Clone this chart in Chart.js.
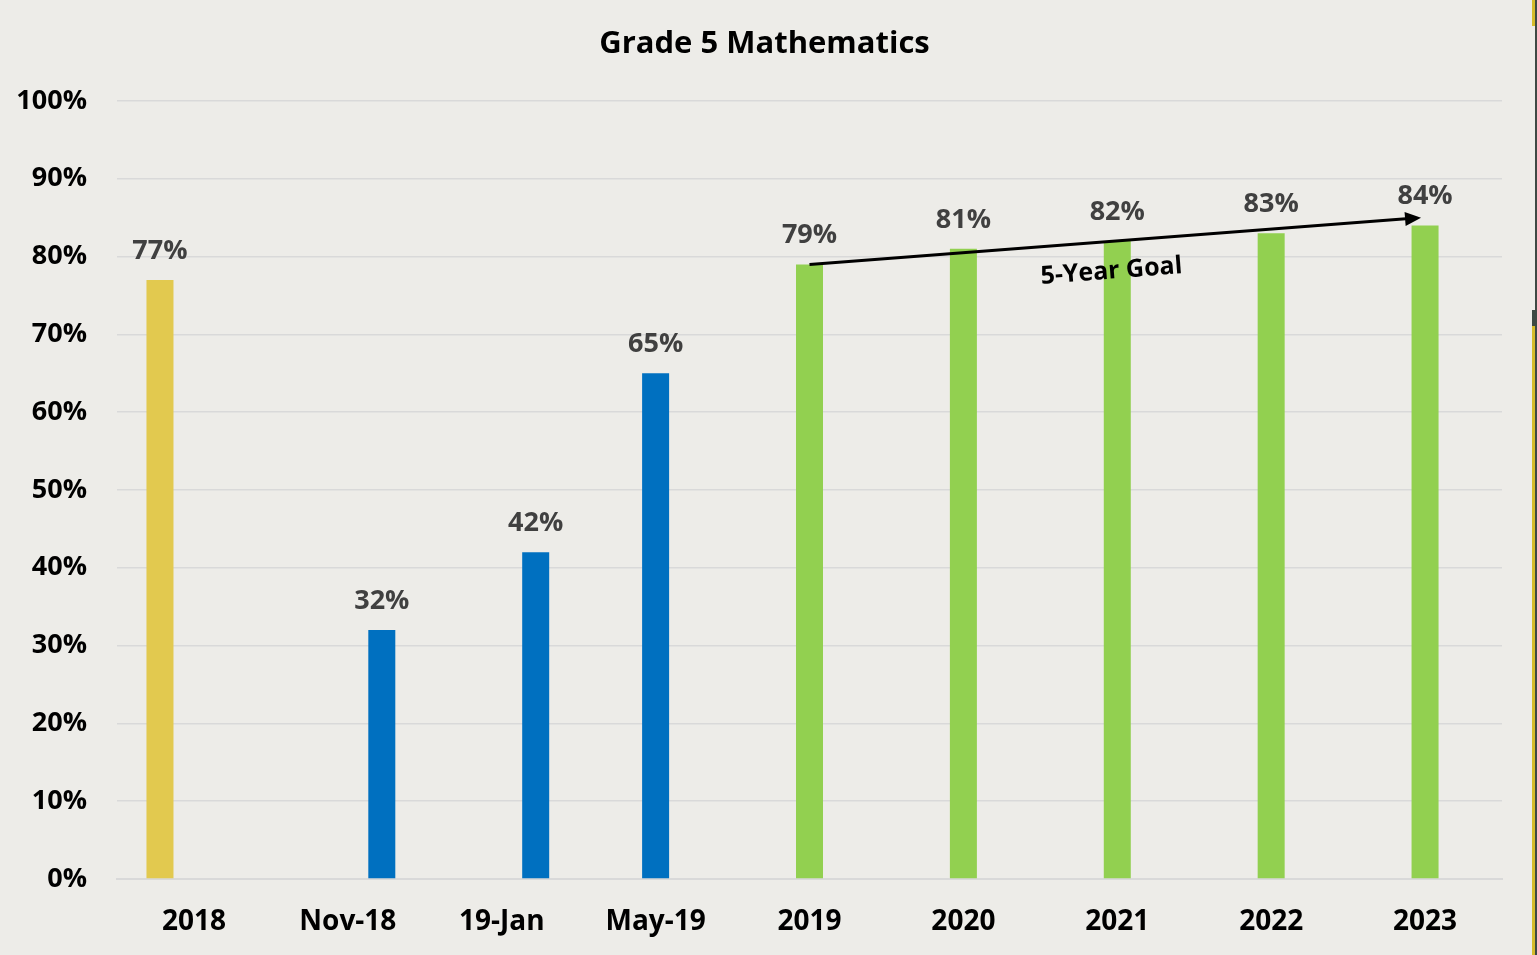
<!DOCTYPE html>
<html lang="en">
<head>
    <meta charset="UTF-8">
    <title>Grade 5 Mathematics</title>
    <script src="https://cdn.jsdelivr.net/npm/chart.js@4.4.1/dist/chart.umd.min.js"></script>
    <style>
        body {
            margin: 0;
            background-color: #EDECE8;
            overflow: hidden;
            font-family: "Open Sans", sans-serif;
        }
        .chart-box {
            position: relative;
            width: 1537px;
            height: 955px;
        }
        .edge {
            position: absolute;
        }
    </style>
</head>
<body>
    <div class="chart-box">
        <canvas id="mathChart"></canvas>
    </div>
    <!-- slide edge visible at the right of the screenshot -->
    <div class="edge" style="left:1535px;top:0;width:2px;height:955px;background:#3E4944"></div>
    <div class="edge" style="left:1532px;top:0;width:3px;height:26px;background:#D6BC2C"></div>
    <div class="edge" style="left:1532px;top:310px;width:3px;height:16px;background:#3E4944"></div>
    <div class="edge" style="left:1532px;top:326px;width:3px;height:629px;background:#D6BC2C"></div>

    <script>
        const chartTitle = 'Grade 5 Mathematics';
        const categories = ['2018', 'Nov-18', '19-Jan', 'May-19', '2019', '2020', '2021', '2022', '2023'];
        // 0 = empty slot that sat next to a bar in the original sheet (keeps the offsets)
        const baseline = [77, 0, 0, null, null, null, null, null, null];
        const interim = [0, 32, 42, 65, null, null, null, null, null];
        const targets = [null, null, null, null, 79, 81, 82, 83, 84];
        const goalEnds = ['2019', '2023'];
        const goalValues = [79, 85];
        const goalText = '5-Year Goal';

        // title centred on the whole page (the built-in one centres inside the padding)
        const pageTitle = {
            id: 'pageTitle',
            afterDraw(chart) {
                const ctx = chart.ctx;
                ctx.save();
                ctx.font = 'bold 31px "Open Sans"';
                ctx.fillStyle = '#000';
                ctx.textAlign = 'center';
                ctx.textBaseline = 'middle';
                ctx.fillText(chartTitle, chart.width / 2 - 4, 44);
                ctx.restore();
            }
        };

        const valueLabels = {
            id: 'valueLabels',
            afterDatasetsDraw(chart) {
                const ctx = chart.ctx;
                ctx.save();
                ctx.font = 'bold 27px "Open Sans"';
                ctx.fillStyle = '#404040';
                ctx.textAlign = 'center';
                ctx.textBaseline = 'middle';
                chart.data.datasets.forEach((ds, i) => {
                    chart.getDatasetMeta(i).data.forEach((bar, j) => {
                        const v = ds.data[j];
                        if (!v) return;
                        ctx.fillText(v + '%', bar.x, bar.y - 29);
                    });
                });
                ctx.restore();
            }
        };

        const goalArrow = {
            id: 'goalArrow',
            afterDatasetsDraw(chart) {
                const xs = chart.scales.x, ys = chart.scales.y, ctx = chart.ctx;
                const x1 = xs.getPixelForValue(categories.indexOf(goalEnds[0]));
                const y1 = ys.getPixelForValue(goalValues[0]);
                const x2 = xs.getPixelForValue(categories.indexOf(goalEnds[1])) - 4;
                const y2 = ys.getPixelForValue(goalValues[1]);
                const ang = Math.atan2(y2 - y1, x2 - x1);

                ctx.save();
                ctx.strokeStyle = '#000';
                ctx.fillStyle = '#000';
                ctx.lineWidth = 3;
                ctx.beginPath();
                ctx.moveTo(x1, y1);
                ctx.lineTo(x2 - 12 * Math.cos(ang), y2 - 12 * Math.sin(ang));
                ctx.stroke();
                ctx.translate(x2, y2);
                ctx.rotate(ang);
                ctx.beginPath();
                ctx.moveTo(0, 0);
                ctx.lineTo(-16, -7);
                ctx.lineTo(-16, 7);
                ctx.closePath();
                ctx.fill();
                ctx.restore();

                ctx.save();
                ctx.translate(x1 + (x2 - x1) * 0.49, y1 + (y2 - y1) * 0.49);
                ctx.rotate(ang);
                ctx.font = 'bold 25px "Open Sans"';
                ctx.fillStyle = '#000';
                ctx.textAlign = 'center';
                ctx.textBaseline = 'middle';
                ctx.fillText(goalText, 0, 30);
                ctx.restore();
            }
        };

        const ctx = document.getElementById('mathChart').getContext('2d');

        new Chart(ctx, {
            type: 'bar',
            data: {
                labels: categories,
                datasets: [
                    { label: 'Baseline', data: baseline, backgroundColor: '#E2C94F' },
                    { label: 'Interim', data: interim, backgroundColor: '#0070C0' },
                    { label: 'Target', data: targets, backgroundColor: '#92D050' }
                ]
            },
            options: {
                responsive: true,
                maintainAspectRatio: false,
                animation: false,
                skipNull: true,
                categoryPercentage: 0.883,
                barPercentage: 0.9,
                maxBarThickness: 27,
                layout: {
                    padding: { left: 0, right: 35, top: 101, bottom: 17 }
                },
                plugins: {
                    legend: { display: false },
                    tooltip: { enabled: false },
                    title: { display: false }
                },
                scales: {
                    x: {
                        afterFit(scale) { scale.height = 59; },
                        grid: { display: false },
                        border: { color: '#D9D9D9', width: 2 },
                        ticks: {
                            color: '#000',
                            padding: 18,
                            font: { family: '"Open Sans"', size: 28, weight: 'bold' }
                        }
                    },
                    y: {
                        min: 0,
                        max: 100,
                        afterFit(scale) { scale.width = 117; },
                        grid: { color: '#D9D9D9', lineWidth: 1.5, drawTicks: false },
                        border: { display: false },
                        ticks: {
                            stepSize: 10,
                            color: '#000',
                            padding: 30,
                            font: { family: '"Open Sans"', size: 27, weight: 'bold' },
                            callback: v => v + '%'
                        }
                    }
                }
            },
            plugins: [pageTitle, valueLabels, goalArrow]
        });
    </script>
</body>
</html>
